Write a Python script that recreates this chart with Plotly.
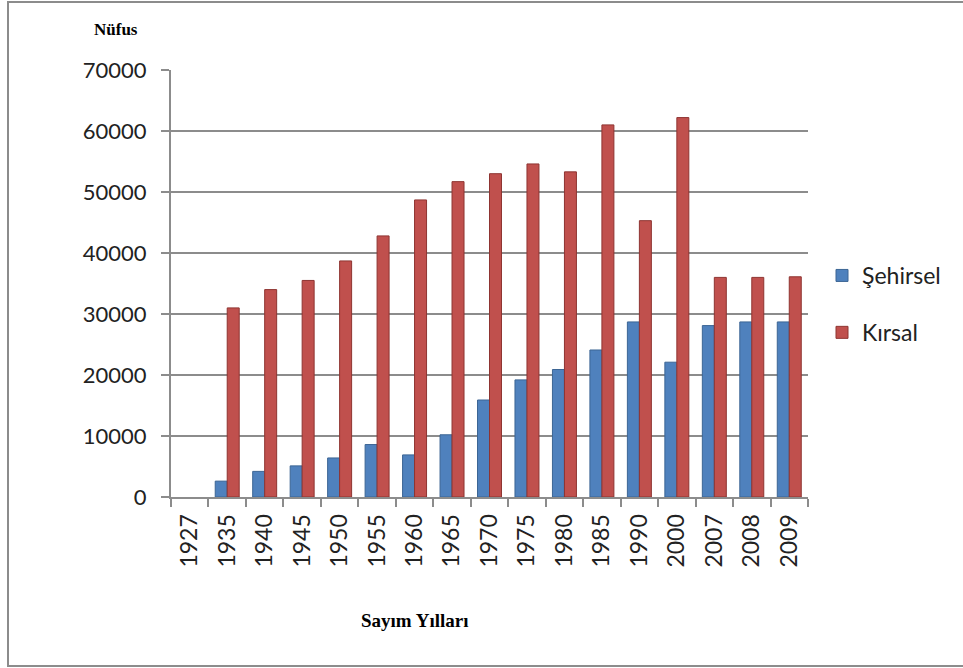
import plotly.graph_objects as go

years = ["1927", "1935", "1940", "1945", "1950", "1955", "1960", "1965", "1970",
         "1975", "1980", "1985", "1990", "2000", "2007", "2008", "2009"]
sehirsel = [None, 2600, 4200, 5100, 6400, 8600, 6900, 10200, 15900,
            19200, 20900, 24100, 28700, 22100, 28100, 28700, 28700]
kirsal = [None, 31000, 34000, 35500, 38700, 42800, 48700, 51700, 53000,
          54600, 53300, 61000, 45300, 62200, 36000, 36000, 36100]
y_ticks = [0, 10000, 20000, 30000, 40000, 50000, 60000, 70000]

W, H = 963, 668
L, R, T, B = 171, 155, 70, 171
pw, ph = W - L - R, H - T - B


def px_x(v):
    return (v - L) / pw


def px_y(v):
    return (H - B - v) / ph


fig = go.Figure()
fig.add_trace(go.Bar(x=years, y=sehirsel, name="Şehirsel", legendgroup="a",
                     marker=dict(color="#4F81BD", line=dict(color="#3C6594", width=1))))
fig.add_trace(go.Bar(x=years, y=kirsal, name="Kırsal", legendgroup="b",
                     marker=dict(color="#C0504D", line=dict(color="#8E3431", width=1))))

fig.update_layout(
    width=W, height=H,
    margin=dict(l=L, r=R, t=T, b=B),
    paper_bgcolor="white", plot_bgcolor="white",
    barmode="group", bargap=0.36, bargroupgap=0,
    font=dict(family="Lato, Liberation Sans, sans-serif", size=22, color="#222"),
    showlegend=True,
    legend=dict(x=px_x(822), y=px_y(254), xanchor="left", yanchor="top",
                tracegroupgap=24, traceorder="grouped", itemwidth=30,
                font=dict(size=23, color="#222")),
    xaxis=dict(type="category", tickangle=-90, showgrid=False,
               showline=True, linecolor="#8c8c8c", linewidth=2,
               ticks="outside", ticklen=8, tickcolor="#8c8c8c", tickwidth=2,
               tickson="boundaries", ticklabelstandoff=6,
               tickfont=dict(size=23)),
    yaxis=dict(range=[0, 70000], tickvals=y_ticks,
               ticktext=[str(v) for v in y_ticks], showgrid=True,
               gridcolor="#8c8c8c", gridwidth=2, zeroline=False,
               showline=True, linecolor="#8c8c8c", linewidth=2,
               ticks="outside", ticklen=8, tickcolor="#8c8c8c", tickwidth=2,
               ticklabelstandoff=10),
    annotations=[
        dict(text="<b>Nüfus</b>", xref="paper", yref="paper",
             x=px_x(116), y=px_y(30), xanchor="center", yanchor="middle",
             showarrow=False,
             font=dict(family="Liberation Serif, Times New Roman, serif", size=17, color="black")),
        dict(text="<b>Sayım Yılları</b>", xref="paper", yref="paper",
             x=px_x(415), y=px_y(620), xanchor="center", yanchor="middle",
             showarrow=False,
             font=dict(family="Liberation Serif, Times New Roman, serif", size=19, color="black")),
    ],
    shapes=[
        dict(type="rect", xref="paper", yref="paper",
             x0=px_x(8), x1=px_x(975), y0=px_y(666), y1=px_y(2),
             line=dict(color="#8c8c8c", width=2), layer="below"),
    ],
)

fig.write_html("out.html", config={"displayModeBar": False},
               post_script="document.body.style.margin='0';document.body.style.overflow='hidden';")
